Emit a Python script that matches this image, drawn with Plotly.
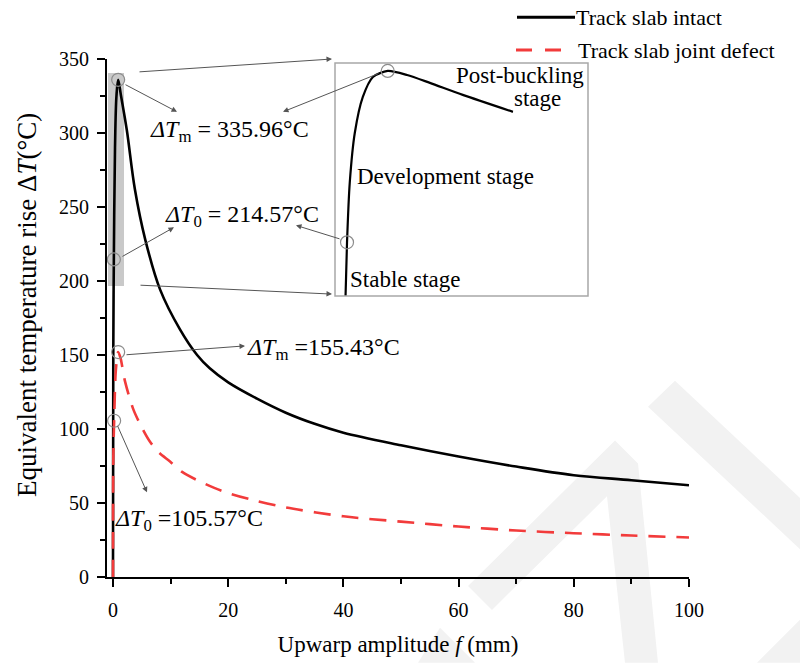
import plotly.graph_objects as go

# ---------------- data ----------------
intact_f = [0, 0.05, 0.15, 0.35, 0.6, 0.9, 1.4, 2.4, 3.8, 5.6, 8.2, 11.6, 14.6, 16.8,
            20, 25, 30, 35, 40, 50, 60, 70, 80, 90, 100]
intact_T = [0, 150, 214.57, 290, 325, 335.96, 325, 302, 262, 228, 194, 167.5, 150, 141,
            131.5, 120.5, 111, 103.5, 97.5, 89, 81.4, 74.6, 68.8, 65.4, 62]

defect_f = [0, 0.05, 0.2, 0.5, 0.9, 1.3, 2.1, 3.5, 5, 6.4, 8, 9.9, 12, 15.1,
            19, 24.3, 30, 40, 50, 60, 70, 80, 90, 100]
defect_T = [0, 80, 105.57, 140, 152, 148, 132, 113.6, 101, 91.5, 84, 78, 71, 64.5,
            58, 52, 47, 41, 37.4, 34.1, 31.4, 29.6, 28, 26.7]

# zoomed inset of the intact curve (stable / development / post-buckling)
inset_f = [0, 0.035, 0.1, 0.22, 0.41, 0.65, 1.0, 1.46, 2.0, 2.78, 3.97]
inset_T = [176.5, 214.57, 256.9, 292.2, 317.6, 331.7, 335.96, 333.1, 327.5, 319.0, 307.0]

x_ticks = [0, 20, 40, 60, 80, 100]
x_minor = [10, 30, 50, 70, 90]
y_ticks = [0, 50, 100, 150, 200, 250, 300, 350]
y_minor = [25, 75, 125, 175, 225, 275, 325]

series_names = ["Track slab intact", "Track slab joint defect"]

# ---------------- layout geometry ----------------
W, H = 800, 665
L, R, TOP, BOT = 107, 689, 59, 579
XR = [-1.04, 100]
YR = [0, 350]
FONT = "Liberation Serif, Times New Roman, serif"


def paper(xp, yp):
    return (xp - L) / (R - L), (BOT - yp) / (BOT - TOP)


def data(xp, yp):
    f = XR[0] + (xp - L) / (R - L) * (XR[1] - XR[0])
    t = YR[0] + (BOT - yp) / (BOT - TOP) * (YR[1] - YR[0])
    return f, t


fig = go.Figure()

fig.add_trace(go.Scatter(x=intact_f, y=intact_T, mode="lines", name=series_names[0],
                         line=dict(color="black", width=2.6, shape="spline", smoothing=1.0),
                         showlegend=False))
fig.add_trace(go.Scatter(x=defect_f, y=defect_T, mode="lines", name=series_names[1],
                         line=dict(color="#f23b3b", width=2.6, dash="17px,11px",
                                   shape="spline", smoothing=0.8),
                         showlegend=False))

# marker circles at characteristic points
fig.add_trace(go.Scatter(
    x=[intact_f[2], intact_f[5], defect_f[2], defect_f[4]],
    y=[intact_T[2], intact_T[5], defect_T[2], defect_T[4]],
    mode="markers", showlegend=False,
    marker=dict(symbol="circle-open", size=13, color="#8c8c8c", line=dict(width=1.2))))

# inset
fig.add_trace(go.Scatter(x=inset_f, y=inset_T, mode="lines", xaxis="x2", yaxis="y2",
                         line=dict(color="black", width=2.2, shape="spline", smoothing=0.7),
                         showlegend=False))
fig.add_trace(go.Scatter(x=[inset_f[1], inset_f[6]], y=[inset_T[1], inset_T[6]],
                         mode="markers", xaxis="x2", yaxis="y2", showlegend=False,
                         marker=dict(symbol="circle-open", size=13, color="#8c8c8c",
                                     line=dict(width=1.2))))

shapes = []
# watermark (very light)
wm_polys = [
    [(468, 588), (615, 442), (638, 465), (658, 665), (625, 665), (607, 498), (492, 612)],
    [(648, 408), (675, 382), (880, 575), (853, 601)],
    [(418, 665), (440, 630), (475, 665)],
    [(757, 665), (800, 622), (800, 665)],
]
for poly in wm_polys:
    pts = [paper(*p) for p in poly]
    path = "M " + " L ".join(f"{x:.4f},{y:.4f}" for x, y in pts) + " Z"
    shapes.append(dict(type="path", xref="paper", yref="paper", path=path,
                       fillcolor="#f2f2f2", line=dict(width=0), layer="below"))

# grey highlighted region
gx0, gy0 = data(108, 287)
gx1, gy1 = data(124, 73)
shapes.append(dict(type="rect", xref="x", yref="y", x0=gx0, x1=gx1, y0=gy0, y1=gy1,
                   fillcolor="#c9c9c9", line=dict(width=0), layer="below"))

# inset frame
bx0, by0 = paper(335, 297)
bx1, by1 = paper(588, 63)
shapes.append(dict(type="rect", xref="paper", yref="paper", x0=bx0, x1=bx1, y0=by0, y1=by1,
                   line=dict(color="#a8a8a8", width=1.5), fillcolor="rgba(0,0,0,0)"))

# manual legend lines
lx0, ly0 = paper(517, 17)
lx1, _ = paper(575, 17)
shapes.append(dict(type="line", xref="paper", yref="paper", x0=lx0, x1=lx1, y0=ly0, y1=ly0,
                   line=dict(color="black", width=3)))
lx0, ly1 = paper(516, 50)
lx1, _ = paper(562, 50)
shapes.append(dict(type="line", xref="paper", yref="paper", x0=lx0, x1=lx1, y0=ly1, y1=ly1,
                   line=dict(color="#f23b3b", width=3, dash="16px,13px")))

annotations = []

# arrows (tail -> head, in pixel estimates converted to main data coords)
arrows = [
    ((124, 84), (177, 112)),   # main peak circle -> label
    ((380, 73), (283, 112)),   # inset peak circle -> label
    ((121, 258), (174, 228)),  # main T0 circle -> label
    ((341, 240), (296, 226)),  # inset T0 circle -> label
    ((138, 72), (332, 59)),    # connector top
    ((139, 286), (332, 295)),  # connector bottom
    ((125, 356), (245, 347)),  # defect peak -> label
    ((117, 426), (147, 494)),  # defect T0 -> label
]
for (tx, ty), (hx, hy) in arrows:
    hf, ht = data(hx, hy)
    tf, tt = data(tx, ty)
    annotations.append(dict(x=hf, y=ht, ax=tf, ay=tt, xref="x", yref="y", axref="x", ayref="y",
                            text="", showarrow=True, arrowhead=2, arrowsize=1.1,
                            arrowwidth=1, arrowcolor="#555555"))

labels = [
    ("<i>ΔT</i><sub>m</sub> = 335.96°C", 148, 131, 24),
    ("<i>ΔT</i><sub>0</sub> = 214.57°C", 163, 217, 24),
    ("<i>ΔT</i><sub>m</sub> =155.43°C", 245, 350, 24),
    ("<i>ΔT</i><sub>0</sub> =105.57°C", 113, 522, 24),
]
for txt, xp, yp, fs in labels:
    f, t = data(xp, yp)
    annotations.append(dict(x=f, y=t, xref="x", yref="y", text=txt, showarrow=False,
                            xanchor="left", yanchor="middle",
                            font=dict(family=FONT, size=fs, color="black")))

inset_labels = [
    ("Post-buckling", 586, 76, "right"),
    ("stage", 563, 99, "right"),
    ("Development stage", 355, 177, "left"),
    ("Stable stage", 348, 280, "left"),
]
for txt, xp, yp, anc in inset_labels:
    px_, py_ = paper(xp, yp)
    annotations.append(dict(x=px_, y=py_, xref="paper", yref="paper", text=txt,
                            showarrow=False, xanchor=anc, yanchor="middle",
                            font=dict(family=FONT, size=23, color="black")))

# legend text
for txt, xp, yp in [(series_names[0], 574, 17), (series_names[1], 576, 50)]:
    px_, py_ = paper(xp, yp)
    annotations.append(dict(x=px_, y=py_, xref="paper", yref="paper", text=txt,
                            showarrow=False, xanchor="left", yanchor="middle",
                            font=dict(family=FONT, size=22, color="black")))

# y-axis title (as rotated annotation to match its position)
tx_, ty_ = paper(27, 306)
annotations.append(dict(x=tx_, y=ty_, xref="paper", yref="paper",
                        text="Equivalent temperature rise Δ<i>T</i>(°C)", textangle=-90,
                        showarrow=False, xanchor="center", yanchor="middle",
                        font=dict(family=FONT, size=27, color="black")))

ix0, _ = paper(335, 0)
ix1, _ = paper(588, 0)
_, iy0 = paper(0, 297)
_, iy1 = paper(0, 63)

axis_common = dict(showline=True, linewidth=2.2, linecolor="black", ticks="outside",
                   ticklen=8, tickwidth=2, tickcolor="black", showgrid=False, zeroline=False,
                   tickfont=dict(family=FONT, size=20, color="black"))

fig.update_layout(
    width=W, height=H,
    margin=dict(l=L, r=W - R, t=TOP, b=H - BOT),
    paper_bgcolor="white", plot_bgcolor="rgba(0,0,0,0)",
    showlegend=False,
    xaxis=dict(range=XR, tickvals=x_ticks, ticklabelstandoff=6,
               minor=dict(tickvals=x_minor, ticks="outside", ticklen=5, tickwidth=1.5,
                          tickcolor="black"),
               title=dict(text="Upwarp amplitude <i>f</i> (mm)", standoff=16,
                          font=dict(family=FONT, size=23, color="black")),
               **axis_common),
    yaxis=dict(range=YR, tickvals=y_ticks, ticklabelstandoff=4,
               minor=dict(tickvals=y_minor, ticks="outside", ticklen=5, tickwidth=1.5,
                          tickcolor="black"),
               **axis_common),
    xaxis2=dict(domain=[ix0, ix1], range=[-0.25, 5.75], anchor="y2", visible=False),
    yaxis2=dict(domain=[iy0, iy1], range=[176.5, 341.6], anchor="x2", visible=False),
    shapes=shapes,
    annotations=annotations,
)

fig.write_html("out.html", config={"displayModeBar": False},
               post_script="document.body.style.margin='0';")
